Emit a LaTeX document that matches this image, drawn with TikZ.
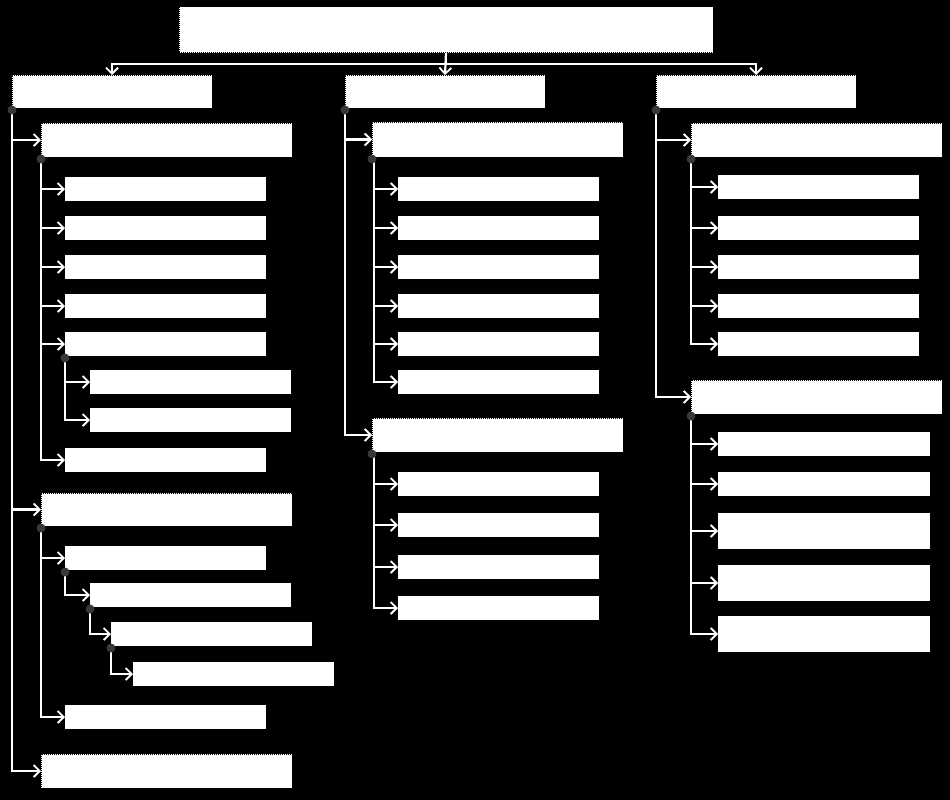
\documentclass[tikz,border=0pt]{standalone}
\usetikzlibrary{arrows.meta}
\tikzset{
  box/.style={fill=white, inner sep=0pt, outer sep=0pt, anchor=north west,
    minimum width=201pt, minimum height=24pt},
  cat/.style={box, draw=black, densely dotted, line width=1pt,
    minimum width=251pt, minimum height=34pt},
  branch/.style={draw=white, line width=2.2pt,
    -{Straight Barb[length=6pt,width=12pt,line width=1.8pt]}},
  knob/.style={fill=black!78!white}
}
\begin{document}
\begin{tikzpicture}[x=1pt, y=-1pt]
            % background
            \fill[black] (0,0) rectangle (950,800);
            \useasboundingbox (0,0) rectangle (950,800);
            % top level
            \node[cat, minimum width=534pt, minimum height=46pt] (root) at (179,7) {};
            \node[cat, minimum width=200pt, minimum height=33pt] (left) at (12,75) {};
            \node[cat, minimum width=200pt, minimum height=33pt] (mid) at (345,75) {};
            \node[cat, minimum width=200pt, minimum height=33pt] (right) at (656,75) {};
            \coordinate (fork) at (446,64);
            \draw[branch] (root.south) -- (fork) -| (left.north);
            \draw[branch] (root.south) -- (mid.north);
            \draw[branch] (fork) -| (right.north);
            % left column
            \node[cat] (la) at (41,123) {};
            \node[cat, minimum height=33pt] (lb) at (41,493) {};
            \node[cat] (lc) at (41,754) {};
            \foreach \n in {la,lb,lc}
              \draw[branch] (left.south west) |- (\n.west);
            \foreach \n/\y in {1/177,2/216,3/255,4/294,5/332,6/448}
              \node[box] (la\n) at (65,\y) {};
            \node[box] (la51) at (90,370) {};
            \node[box] (la52) at (90,408) {};
            \foreach \n in {1,2,3,4,5,6}
              \draw[branch] (la.south west) |- (la\n.west);
            \foreach \n in {51,52}
              \draw[branch] (la5.south west) |- (la\n.west);
            \node[box] (lb1) at (65,546) {};
            \node[box] (lb2) at (90,583) {};
            \node[box] (lb3) at (111,622) {};
            \node[box] (lb4) at (133,662) {};
            \node[box] (lb5) at (65,705) {};
            \draw[branch] (lb.south west) |- (lb1.west);
            \draw[branch] (lb.south west) |- (lb5.west);
            \draw[branch] (lb1.south west) |- (lb2.west);
            \draw[branch] (lb2.south west) |- (lb3.west);
            \draw[branch] (lb3.south west) |- (lb4.west);
            % middle column
            \node[cat, minimum height=35pt] (ma) at (372,122) {};
            \node[cat] (mb) at (372,418) {};
            \foreach \n in {ma,mb}
              \draw[branch] (mid.south west) |- (\n.west);
            \foreach \n/\y in {1/177,2/216,3/255,4/294,5/332,6/370} {
              \node[box] (ma\n) at (398,\y) {};
              \draw[branch] ([xshift=2pt]ma.south west) |- (ma\n.west);
            }
            \foreach \n/\y in {1/472,2/513,3/555,4/596} {
              \node[box] (mb\n) at (398,\y) {};
              \draw[branch] ([xshift=2pt]mb.south west) |- (mb\n.west);
            }
            % right column
            \node[cat] (ra) at (691,123) {};
            \node[cat] (rb) at (691,380) {};
            \foreach \n in {ra,rb}
              \draw[branch] (right.south west) |- (\n.west);
            \foreach \n/\y in {1/175,2/216,3/255,4/294,5/332} {
              \node[box] (ra\n) at (718,\y) {};
              \draw[branch] (ra.south west) |- (ra\n.west);
            }
            \foreach \n/\y/\h in {1/432/24,2/472/24,3/513/36,4/565/36,5/616/36} {
              \node[box, minimum width=212pt, minimum height=\h pt] (rb\n) at (718,\y) {};
              \draw[branch] (rb.south west) |- (rb\n.west);
            }
            % knobs
            \foreach \n in {left,la,lb,la5,lb1,lb2,lb3,mid,ma,mb,right,ra,rb}
              \fill[knob] ([yshift=-2pt]\n.south west) circle (4.5pt);
\end{tikzpicture}
\end{document}
